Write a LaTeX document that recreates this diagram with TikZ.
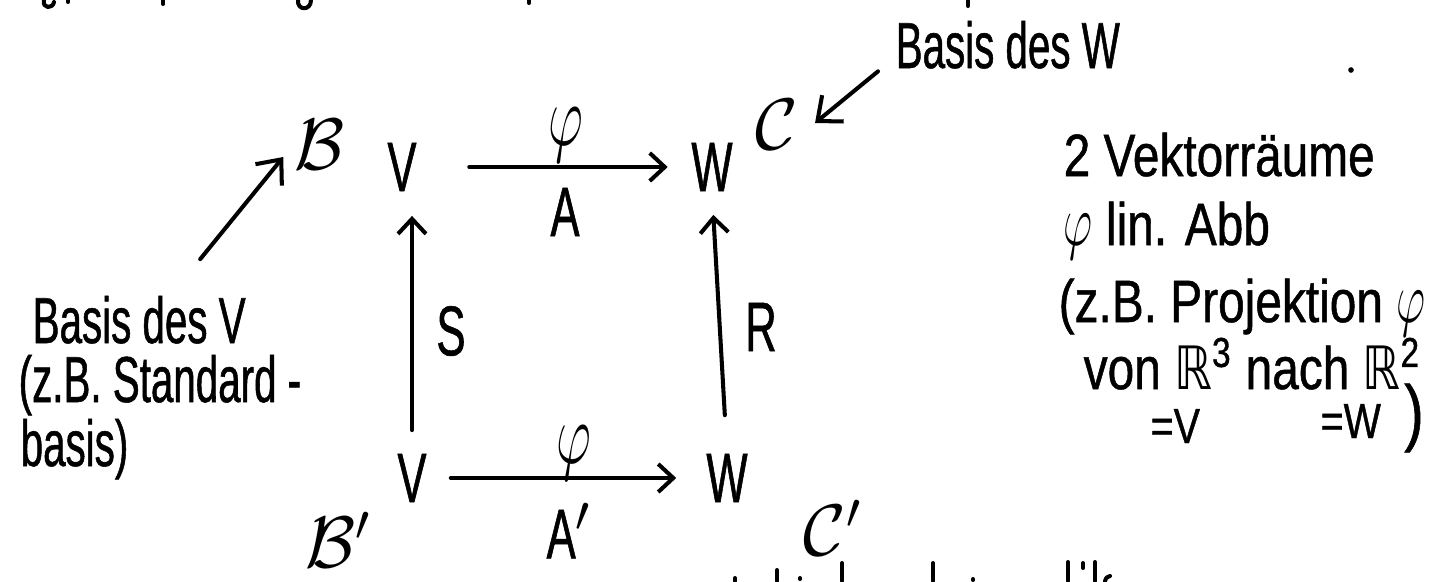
\documentclass[tikz,border=0pt]{standalone}
\usepackage{graphicx}
\usepackage{fontspec}
\setmainfont{Liberation Sans}
\newfontfamily\hand[FakeStretch=0.62,FakeBold=0.8]{Liberation Sans}
\newfontfamily\handwide[FakeStretch=0.8,FakeBold=0.8]{Liberation Sans}
\newfontfamily\symfont[FakeStretch=0.8]{DejaVu Sans}
\usetikzlibrary{arrows.meta}

% a narrow, curly phi
\newcommand{\curlyphi}{\scalebox{0.62}[1]{$\varphi$}}
% the same phi, written larger inside running text
\newcommand{\textphi}{{\fontsize{22}{22}\selectfont\curlyphi}}

\tikzset{
  ink/.style={line width=1.15pt, line cap=round, line join=round},
  mapto/.style={ink, -{Straight Barb[length=1.5mm,width=2.8mm]}},
  pointer/.style={ink, -{Straight Barb[length=2mm,width=3.4mm]}},
  letter/.style={inner sep=0pt, font=\hand\fontsize{20}{24}\selectfont},
  greek/.style={inner sep=0pt, font=\fontsize{24}{28}\selectfont},
  calig/.style={inner sep=0pt, font=\fontsize{21}{25}\selectfont},
  note/.style={inner sep=0pt, anchor=base west, font=\hand\fontsize{18.5}{22}\selectfont},
  sidenote/.style={inner sep=0pt, anchor=base west, font=\handwide\fontsize{17}{20}\selectfont},
  smallnote/.style={inner sep=0pt, anchor=base west, font=\handwide\fontsize{14}{16}\selectfont},
}

\begin{document}
\begin{tikzpicture}[x=0.01cm, y=-0.01cm]
\useasboundingbox (0,0) rectangle (1437,581);

% ends of the line written above, cut by the top edge
\draw[ink] (44,0) .. controls (42,9) and (53,9) .. (54,2);
\draw[ink] (68,0) -- (68,2);
\draw[ink] (163,0) -- (163,4);
\draw[ink] (298,0) .. controls (297,11) and (311,11) .. (311,0);
\draw[ink] (529,0) -- (529,3);
\draw[ink] (968,0) -- (968,6);

% the four spaces of the square
\node[letter] (V1) at (402,167) {V};
\node[letter] (W1) at (712,167) {W};
\node[letter] (V2) at (412,478) {V};
\node[letter] (W2) at (727,478) {W};

% bases
\node[calig] (calB)  at (320,145) {$\mathcal{B}$};
\node[calig] (calC)  at (777,125) {$\mathcal{C}$};
\node[calig] (calBp) at (338,540) {$\mathcal{B}'$};
\node[calig] (calCp) at (833,528) {$\mathcal{C}'$};

% maps
\draw[mapto, shorten <=0.52cm, shorten >=0.23cm] (V1.east) -- (W1.west);
\draw[mapto, shorten <=0.235cm, shorten >=0.295cm] (V2.east) -- (W2.west);
\draw[mapto, shorten <=0.23cm, shorten >=0.24cm] (V2.north) -- (V2.north |- V1.south);
\draw[mapto, shorten <=0.38cm, shorten >=0.23cm] (W2.north) -- (W1.south);

% labels of the maps
\node[greek]  (phiT) at (566,135) {\curlyphi};
\node[letter] (A)    at (565,212) {A};
\node[letter] (S)    at (451,331) {S};
\node[letter] (R)    at (761,327) {R};
\node[greek]  (phiB) at (574,453) {\curlyphi};
\node[letter] (Ap)   at (569,531) {A$'$};

% notes on the left
\node[note] (bv1) at (32,343) {Basis des V};
\node[note] (bv2) at (18,402) {(z.B. Standard -};
\node[note] (bv3) at (20,466) {basis)};
\draw[pointer] ([shift={(61,-36)}]bv1.north) -- ([shift={(-11,12)}]calB.west);

% note at the top
\node[note] (bw) at (895,68) {Basis des W};
\draw[pointer] ([shift={(-17,2)}]bw.south west) -- ([shift={(16,-2)}]calC.east);
\fill (1351,70) circle[radius=0.8pt];

% notes on the right
\node[sidenote] (r1) at (1063,176) {2 Vektorräume};
\node[sidenote] (r2) at (1063,245) {\textphi\ lin. Abb};
\node[sidenote] (r3) at (1058,322) {(z.B. Projektion \textphi};
\node[sidenote] (r4) at (1083,389) {von {\symfont ℝ}\textsuperscript{3} nach {\symfont ℝ}\textsuperscript{2}};
\node[smallnote] (r5) at (1150,443) {=V};
\node[smallnote] (r6) at (1320,438) {=W};
\node[inner sep=0pt, font=\handwide\fontsize{21}{25}\selectfont] (r7) at (1414,418) {)};

% line written below, cut by the bottom edge
\draw[ink] (735,578) -- (735,581);
\draw[ink] (777,570) -- (777,581);
\draw[ink] (800,578) -- (800,579);
\draw[ink] (842,563) -- (842,581);
\draw[ink] (933,563) -- (933,581);
\draw[ink] (973,579) -- (973,580);
\draw[ink] (1068,562) -- (1068,581);
\draw[ink] (1083,563) -- (1083,568);
\draw[ink] (1095,562) -- (1095,581);
\draw[ink] (1110,576) .. controls (1106,577) and (1105,580) .. (1105,581);
\end{tikzpicture}
\end{document}
